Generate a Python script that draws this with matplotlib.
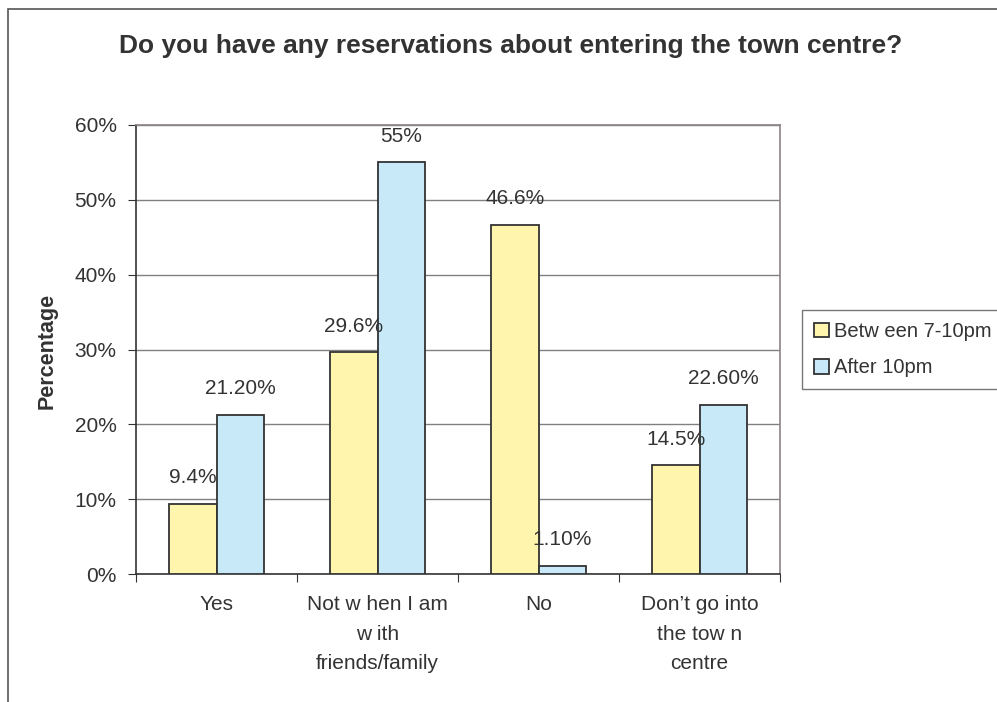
import matplotlib
matplotlib.use("Agg")
import matplotlib.pyplot as plt
from matplotlib.patches import Rectangle
import numpy as np

plt.rcParams['font.family'] = ['Liberation Sans', 'DejaVu Sans']

categories = ["Yes", "Not w hen I am\nw ith\nfriends/family", "No", "Don’t go into\nthe tow n\ncentre"]
series_names = ["Betw een 7-10pm", "After 10pm"]
between = [9.4, 29.6, 46.6, 14.5]
after = [21.2, 55.0, 1.1, 22.6]
between_labels = ["9.4%", "29.6%", "46.6%", "14.5%"]
after_labels = ["21.20%", "55%", "1.10%", "22.60%"]
yticks = [0, 10, 20, 30, 40, 50, 60]
ytick_labels = ["0%", "10%", "20%", "30%", "40%", "50%", "60%"]

W, H = 997, 702
fig = plt.figure(figsize=(W/100, H/100), dpi=100)
txt = '#333333'
fs = 15

# outer frame
fig.patches.append(Rectangle((8/W, -0.1), 1.2, (H-9)/H + 0.1, transform=fig.transFigure,
                             fill=False, edgecolor='#555555', linewidth=1.2))

ax = fig.add_axes([136/W, 1-574/H, (780-136)/W, (574-125)/H])
x = np.arange(len(categories))
bw = 0.295
b1 = ax.bar(x - bw/2, between, bw, color='#FFF5AD', edgecolor='#333333', linewidth=1.3,
            label=series_names[0], zorder=3)
b2 = ax.bar(x + bw/2, after, bw, color='#C8E9F8', edgecolor='#333333', linewidth=1.3,
            label=series_names[1], zorder=3)
for rect, lab in list(zip(b1, between_labels)) + list(zip(b2, after_labels)):
    ax.annotate(lab, (rect.get_x() + rect.get_width()/2, rect.get_height()),
                xytext=(0, 19), textcoords='offset points', ha='center', va='center',
                fontsize=fs, color=txt)

ax.set_xlim(-0.5, len(categories) - 0.5)
ax.set_ylim(0, 60)
ax.set_yticks(yticks)
ax.set_yticklabels(ytick_labels, fontsize=fs, color=txt)
ax.yaxis.grid(True, color='#808080', linewidth=1.0, zorder=0)
ax.set_axisbelow(True)
ax.set_xticks(np.arange(-0.5, len(categories), 1.0))
ax.set_xticklabels([])
ax.set_xticks(x, minor=True)
ax.set_xticklabels(categories, minor=True, fontsize=fs, color=txt, linespacing=1.72)
ax.tick_params(axis='x', which='minor', length=0, pad=15)
ax.tick_params(axis='x', which='major', length=6, direction='out', color='#333333')
ax.tick_params(axis='y', length=6, direction='out', color='#333333', pad=8)
for s in ['top', 'right']:
    ax.spines[s].set_color('#8c8484')
    ax.spines[s].set_linewidth(1.2)
for s in ['left', 'bottom']:
    ax.spines[s].set_color('#333333')
    ax.spines[s].set_linewidth(1.2)

fig.text(47/W, 1-351/H, "Percentage", rotation=90, ha='center', va='center',
         fontsize=15.5, fontweight='bold', color=txt)
fig.text(511/W, 1-46/H, "Do you have any reservations about entering the town centre?",
         ha='center', va='center', fontsize=19, fontweight='bold', color=txt)

leg = fig.legend(handles=[b1, b2], labels=series_names, loc='upper left',
                 bbox_to_anchor=(802/W, 1-310/H), fontsize=14.5, frameon=True,
                 fancybox=False, edgecolor='#555555', handlelength=0.75, handleheight=0.75,
                 handletextpad=0.25, borderpad=0.6, borderaxespad=0, labelspacing=0.85)
for t in leg.get_texts():
    t.set_color(txt)
leg.get_frame().set_linewidth(1.0)
leg._legend_box.align = "left"

fig.savefig("out.png", dpi=100)
